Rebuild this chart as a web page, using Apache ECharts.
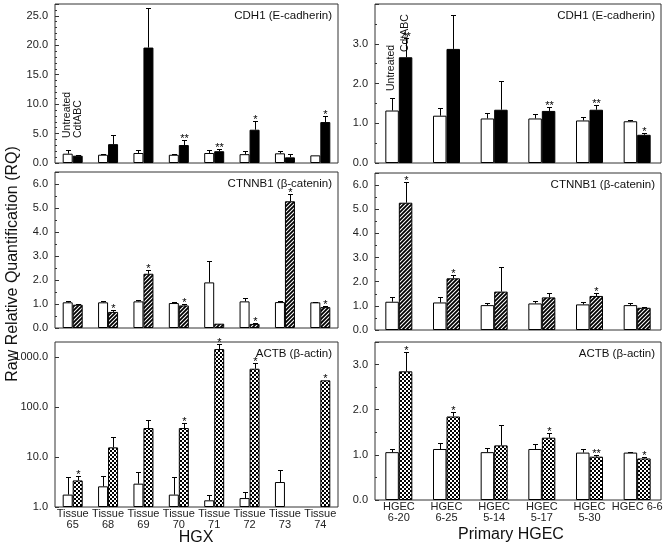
<!DOCTYPE html>
<html><head><meta charset="utf-8">
<script src="https://cdn.jsdelivr.net/npm/echarts@6/dist/echarts.min.js"></script>
<style>html,body{margin:0;padding:0;background:#fff}#c{width:664px;height:545px}</style>
</head><body><div id="c"></div>
<script>
// ---------- categories ----------
const hgxCategories = ['Tissue\n65','Tissue\n68','Tissue\n69','Tissue\n70','Tissue\n71','Tissue\n72','Tissue\n73','Tissue\n74'];
const hgecCategories = ['HGEC\n6-20','HGEC\n6-25','HGEC\n5-14','HGEC\n5-17','HGEC\n5-30','HGEC 6-6'];

// ---------- CDH1 (E-cadherin) ----------
const cdh1HgxUntreated   = [1.58, 1.41, 1.70, 1.40, 1.70, 1.50, 1.64, 1.30];
const cdh1HgxUntreatedSD = [0.68, 0.09, 0.45, 0.20, 0.56, 0.50, 0.46, 0];
const cdh1HgxCdt         = [1.24, 3.20, 19.6, 3.05, 2.00, 5.65, 0.96, 6.95];
const cdh1HgxCdtSD       = [0.16, 1.60, 6.70, 0.80, 0.40, 1.41, 0.62, 1.05];
const cdh1HgxSig         = ['', '', '', '**', '**', '*', '', '*'];

const cdh1HgecUntreated   = [1.32, 1.19, 1.12, 1.12, 1.07, 1.05];
const cdh1HgecUntreatedSD = [0.31, 0.19, 0.13, 0.12, 0.08, 0.02];
const cdh1HgecCdt         = [2.66, 2.87, 1.34, 1.31, 1.34, 0.71];
const cdh1HgecCdtSD       = [0.49, 0.85, 0.73, 0.11, 0.12, 0.04];
const cdh1HgecSig         = ['**', '', '', '**', '**', '*'];

// ---------- CTNNB1 (beta-catenin) ----------
const ctnnb1HgxUntreated   = [1.07, 1.07, 1.11, 1.04, 1.90, 1.11, 1.08, 1.07];
const ctnnb1HgxUntreatedSD = [0.04, 0.05, 0.07, 0.04, 0.88, 0.14, 0.03, 0.03];
const ctnnb1HgxCdt         = [0.97, 0.67, 2.26, 0.94, 0.18, 0.17, 5.28, 0.87];
const ctnnb1HgxCdtSD       = [0.04, 0.06, 0.17, 0.06, 0, 0.04, 0.30, 0.06];
const ctnnb1HgxSig         = ['', '*', '*', '*', '', '*', '*', '*'];

const ctnnb1HgecUntreated   = [1.17, 1.14, 1.03, 1.10, 1.06, 1.03];
const ctnnb1HgecUntreatedSD = [0.21, 0.21, 0.07, 0.10, 0.08, 0.07];
const ctnnb1HgecCdt         = [5.27, 2.14, 1.59, 1.35, 1.41, 0.92];
const ctnnb1HgecCdtSD       = [0.87, 0.14, 1.03, 0.17, 0.11, 0.05];
const ctnnb1HgecSig         = ['*', '*', '', '', '*', ''];

// ---------- ACTB (beta-actin) ----------
const actbHgxUntreated   = [1.77, 2.59, 2.93, 1.77, 1.36, 1.51, 3.16, null];
const actbHgxUntreatedSD = [2.13, 1.61, 2.17, 2.13, 0.35, 0.52, 2.34, 0];
const actbHgxCdt         = [3.4, 15.6, 38, 38, 1445, 584, null, 342];
const actbHgxCdtSD       = [0.7, 9.1, 17.8, 9.9, 403, 176, 0, 0];
const actbHgxSig         = ['*', '', '', '*', '*', '*', '', '*'];

const actbHgecUntreated   = [1.06, 1.13, 1.06, 1.13, 1.05, 1.05];
const actbHgecUntreatedSD = [0.06, 0.14, 0.10, 0.12, 0.07, 0.02];
const actbHgecCdt         = [2.85, 1.85, 1.21, 1.38, 0.96, 0.92];
const actbHgecCdtSD       = [0.43, 0.11, 0.46, 0.11, 0.03, 0.03];
const actbHgecSig         = ['*', '*', '', '*', '**', '*'];

// ---------- text ----------
const panelTitles = ['CDH1 (E-cadherin)', 'CDH1 (E-cadherin)', 'CTNNB1 (\u03b2-catenin)', 'CTNNB1 (\u03b2-catenin)', 'ACTB (\u03b2-actin)', 'ACTB (\u03b2-actin)'];
const yAxisTitle = 'Raw Relative Quantification (RQ)';
const xTitleLeft = 'HGX';
const xTitleRight = 'Primary HGEC';
const legendUntreated = 'Untreated';
const legendCdt = 'CdtABC';

const FONT = '"Liberation Sans", Arial, Helvetica, sans-serif';

function makePattern(kind) {
  const c = document.createElement('canvas');
  c.width = 4; c.height = 4;
  const g = c.getContext('2d');
  g.fillStyle = '#fff'; g.fillRect(0, 0, 4, 4);
  g.fillStyle = '#000'; g.strokeStyle = '#000';
  if (kind === 'hatch') {
    g.lineWidth = 1.8;
    g.beginPath();
    g.moveTo(-1, 5); g.lineTo(5, -1);
    g.moveTo(-1, 1); g.lineTo(1, -1);
    g.moveTo(3, 5); g.lineTo(5, 3);
    g.stroke();
  } else {
    g.fillRect(0, 0, 2, 2); g.fillRect(2, 2, 2, 2);
  }
  return c;
}
const hatchFill = { image: makePattern('hatch'), repeat: 'repeat' };
const checkFill = { image: makePattern('check'), repeat: 'repeat' };

const layout = [
  { left: 55, top: 4, width: 283, height: 159 },
  { left: 375, top: 4, width: 286, height: 159 },
  { left: 55, top: 172, width: 283, height: 156 },
  { left: 375, top: 173, width: 286, height: 157 },
  { left: 55, top: 342, width: 283, height: 165 },
  { left: 375, top: 342, width: 286, height: 158 }
];

const panels = [
  { cats: hgxCategories, u: cdh1HgxUntreated, us: cdh1HgxUntreatedSD, t: cdh1HgxCdt, ts: cdh1HgxCdtSD, sig: cdh1HgxSig, fill: '#000', max: 27, interval: 5, minor: 5, barW: 10, showX: false },
  { cats: hgecCategories, u: cdh1HgecUntreated, us: cdh1HgecUntreatedSD, t: cdh1HgecCdt, ts: cdh1HgecCdtSD, sig: cdh1HgecSig, fill: '#000', max: 4, interval: 1, minor: 2, barW: 13.5, showX: false },
  { cats: hgxCategories, u: ctnnb1HgxUntreated, us: ctnnb1HgxUntreatedSD, t: ctnnb1HgxCdt, ts: ctnnb1HgxCdtSD, sig: ctnnb1HgxSig, fill: hatchFill, max: 6.5, interval: 1, minor: 2, barW: 10, showX: false },
  { cats: hgecCategories, u: ctnnb1HgecUntreated, us: ctnnb1HgecUntreatedSD, t: ctnnb1HgecCdt, ts: ctnnb1HgecCdtSD, sig: ctnnb1HgecSig, fill: hatchFill, max: 6.5, interval: 1, minor: 2, barW: 13.5, showX: false },
  { cats: hgxCategories, u: actbHgxUntreated, us: actbHgxUntreatedSD, t: actbHgxCdt, ts: actbHgxCdtSD, sig: actbHgxSig, fill: checkFill, log: true, max: 2000, barW: 10, showX: true },
  { cats: hgecCategories, u: actbHgecUntreated, us: actbHgecUntreatedSD, t: actbHgecCdt, ts: actbHgecCdtSD, sig: actbHgecSig, fill: checkFill, max: 3.5, interval: 1, minor: 2, barW: 13.5, showX: true }
];

const grids = [], xAxes = [], yAxes = [], series = [], graphics = [];

panels.forEach((p, gi) => {
  const L = layout[gi];
  grids.push(Object.assign({ show: true, borderColor: '#333', borderWidth: 1, backgroundColor: 'transparent', containLabel: false, outerBoundsMode: 'none' }, L));
  xAxes.push({
    type: 'category', gridIndex: gi, data: p.cats, boundaryGap: true,
    axisLine: { show: false }, axisTick: { show: false },
    axisLabel: { show: p.showX, interval: 0, margin: 1, fontFamily: FONT, fontSize: 11, color: '#222', lineHeight: 11.5 },
    splitLine: { show: false }
  });
  const y = {
    gridIndex: gi, axisLine: { show: false },
    axisTick: { show: true, inside: true, length: 4, lineStyle: { color: '#333' } },
    splitLine: { show: false },
    axisLabel: { margin: 7, fontFamily: FONT, fontSize: 11, color: '#222', showMaxLabel: false, formatter: v => Number(v).toFixed(1) }
  };
  if (p.log) {
    Object.assign(y, { type: 'log', logBase: 10, min: 1, max: p.max });
  } else {
    Object.assign(y, { type: 'value', min: 0, max: p.max, interval: p.interval,
      minorTick: { show: true, splitNumber: p.minor, length: 2, lineStyle: { color: '#333' } } });
  }
  yAxes.push(y);

  const toData = arr => arr.map(v => (v == null ? '-' : v));
  series.push({
    type: 'bar', xAxisIndex: gi, yAxisIndex: gi, data: toData(p.u), barWidth: p.barW, barGap: '0%',
    itemStyle: { color: '#fff', borderColor: '#000', borderWidth: 1 }, silent: true, animation: false
  });
  series.push({
    type: 'bar', xAxisIndex: gi, yAxisIndex: gi, data: toData(p.t), barWidth: p.barW, barGap: '0%',
    itemStyle: { color: p.fill, borderColor: '#000', borderWidth: 1 }, silent: true, animation: false
  });

  // error bars + significance marks
  const errData = [];
  p.u.forEach((m, i) => { if (m != null) errData.push([i, m, p.us[i], -1, '']); });
  p.t.forEach((m, i) => { if (m != null) errData.push([i, m, p.ts[i], 1, p.sig[i]]); });
  const bw = p.barW;
  series.push({
    type: 'custom', xAxisIndex: gi, yAxisIndex: gi, z: 5, silent: true, animation: false,
    data: errData,
    renderItem: function (params, api) {
      const d = errData[params.dataIndex];
      const i = d[0], m = d[1], sd = d[2], side = d[3], sig = d[4];
      const base = api.coord([i, m]);
      const top = api.coord([i, m + sd]);
      const x = Math.round(base[0] + side * bw / 2) + 0.5;
      const ty = Math.round(top[1]) + 0.5;
      const children = [];
      if (sd > 0) {
        children.push({ type: 'line', shape: { x1: x, y1: base[1], x2: x, y2: ty }, style: { stroke: '#000', lineWidth: 1 } });
        children.push({ type: 'line', shape: { x1: x - 2.5, y1: ty, x2: x + 2.5, y2: ty }, style: { stroke: '#000', lineWidth: 1 } });
      }
      if (sig) {
        children.push({ type: 'text', x: x, y: ty + 4, style: { text: sig, fontFamily: FONT, fontSize: 11, fill: '#000', align: 'center', verticalAlign: 'bottom' } });
      }
      return { type: 'group', children: children };
    }
  });

  graphics.push({
    type: 'text', right: 664 - (L.left + L.width) + 6, top: L.top + 6,
    style: { text: panelTitles[gi], fontFamily: FONT, fontSize: 11.5, fill: '#111' }
  });
});

// rotated legend-like labels over the first bar pair
graphics.push({ type: 'text', x: 67, y: 138, rotation: Math.PI / 2, style: { text: legendUntreated, fontFamily: FONT, fontSize: 10.5, fill: '#111', align: 'left', verticalAlign: 'middle' } });
graphics.push({ type: 'text', x: 78, y: 138, rotation: Math.PI / 2, style: { text: legendCdt, fontFamily: FONT, fontSize: 10.5, fill: '#111', align: 'left', verticalAlign: 'middle' } });
graphics.push({ type: 'text', x: 391, y: 91, rotation: Math.PI / 2, style: { text: legendUntreated, fontFamily: FONT, fontSize: 10.5, fill: '#111', align: 'left', verticalAlign: 'middle' } });
graphics.push({ type: 'text', x: 405, y: 52, rotation: Math.PI / 2, style: { text: legendCdt, fontFamily: FONT, fontSize: 10.5, fill: '#111', align: 'left', verticalAlign: 'middle' } });

// axis titles
graphics.push({ type: 'text', x: 13, y: 264, rotation: Math.PI / 2, style: { text: yAxisTitle, fontFamily: FONT, fontSize: 16, fill: '#111', align: 'center', verticalAlign: 'middle' } });
graphics.push({ type: 'text', x: 196, y: 538, style: { text: xTitleLeft, fontFamily: FONT, fontSize: 16, fill: '#111', align: 'center', verticalAlign: 'middle' } });
graphics.push({ type: 'text', x: 511, y: 535, style: { text: xTitleRight, fontFamily: FONT, fontSize: 16, fill: '#111', align: 'center', verticalAlign: 'middle' } });

const chart = echarts.init(document.getElementById('c'), null, { renderer: 'canvas' });
chart.setOption({
  animation: false,
  backgroundColor: '#fff',
  grid: grids, xAxis: xAxes, yAxis: yAxes, series: series,
  graphic: graphics
});
</script>
</body></html>
